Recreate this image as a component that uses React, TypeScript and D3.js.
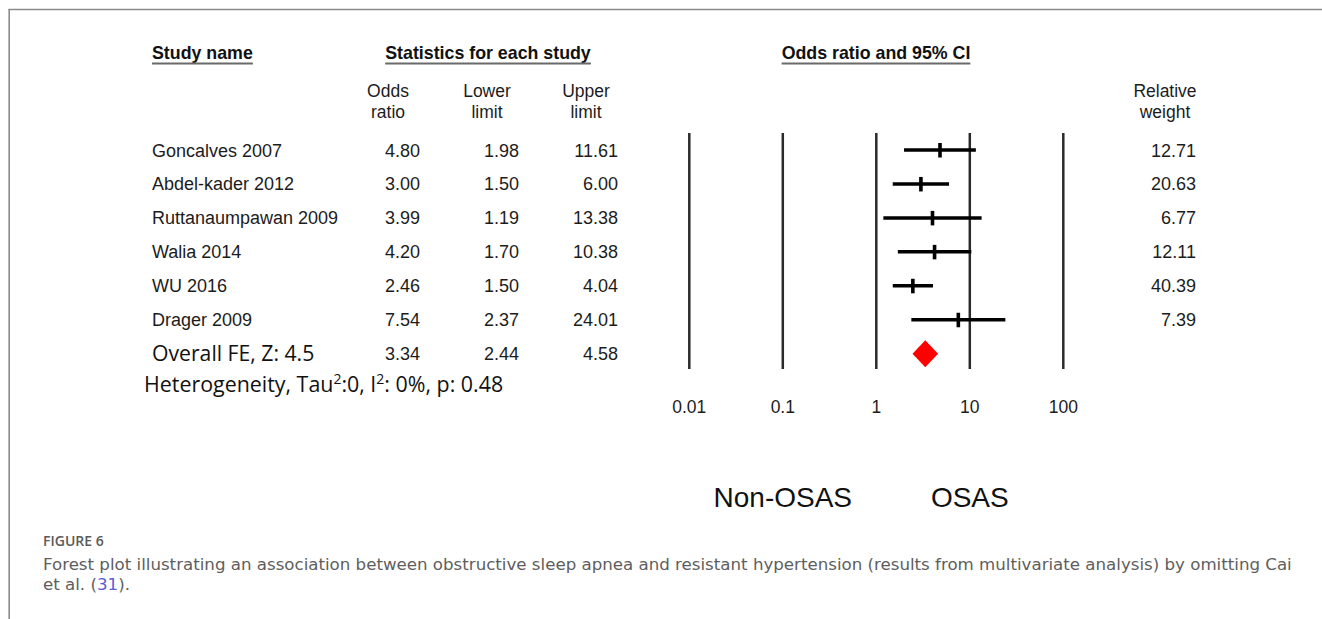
import React, { useEffect, useRef } from "react";
import * as d3 from "d3";

const studyNames = [
  "Goncalves 2007",
  "Abdel-kader 2012",
  "Ruttanaumpawan 2009",
  "Walia 2014",
  "WU 2016",
  "Drager 2009",
];
const oddsRatios = [4.8, 3.0, 3.99, 4.2, 2.46, 7.54];
const lowerLimits = [1.98, 1.5, 1.19, 1.7, 1.5, 2.37];
const upperLimits = [11.61, 6.0, 13.38, 10.38, 4.04, 24.01];
const relativeWeights = [12.71, 20.63, 6.77, 12.11, 40.39, 7.39];

const overallLabel = "Overall FE, Z: 4.5";
const overallOdds = 3.34;
const overallLower = 2.44;
const overallUpper = 4.58;

const axisTicks = [0.01, 0.1, 1, 10, 100];
const tickLabels = ["0.01", "0.1", "1", "10", "100"];

const W = 1322;
const H = 619;
const SANS = "'Liberation Sans', Arial, sans-serif";
const CAL = "'Open Sans', sans-serif";
const CAP = "'DejaVu Sans', sans-serif";

export default function App() {
  const ref = useRef<SVGSVGElement | null>(null);

  useEffect(() => {
    const svg = d3.select(ref.current);
    svg.selectAll("*").remove();

    const x = d3.scaleLog().domain([0.01, 100]).range([689.3, 1063.3]);
    const y = d3.scaleLinear().domain([0, 6]).range([150, 353.7]);
    const fmt = d3.format(".2f");
    const textColor = "#1c1c1c";

    // frame
    svg.append("line").attr("x1", 8.5).attr("x2", W).attr("y1", 9.5).attr("y2", 9.5)
      .attr("stroke", "#8a8a8a").attr("stroke-width", 1.6);
    svg.append("line").attr("x1", 9.2).attr("x2", 9.2).attr("y1", 9).attr("y2", H)
      .attr("stroke", "#8a8a8a").attr("stroke-width", 1.6);

    // headers with underline
    const headers = [
      { t: "Study name", x: 152, anchor: "start" },
      { t: "Statistics for each study", x: 488, anchor: "middle" },
      { t: "Odds ratio and 95% CI", x: 876, anchor: "middle" },
    ];
    headers.forEach((h) => {
      const node = svg.append("text")
        .attr("x", h.x).attr("y", 59)
        .attr("text-anchor", h.anchor)
        .attr("font-family", SANS).attr("font-weight", "bold")
        .attr("font-size", 17.8).attr("fill", "#111")
        .text(h.t);
      const bb = (node.node() as SVGTextElement).getBBox();
      svg.append("line")
        .attr("x1", bb.x).attr("x2", bb.x + bb.width)
        .attr("y1", 63.5).attr("y2", 63.5)
        .attr("stroke", "#6a6a6a").attr("stroke-width", 2.2);
    });

    // column sub-headers
    const sub = [
      { a: "Odds", b: "ratio", x: 388 },
      { a: "Lower", b: "limit", x: 487 },
      { a: "Upper", b: "limit", x: 586 },
      { a: "Relative", b: "weight", x: 1165 },
    ];
    sub.forEach((s) => {
      [s.a, s.b].forEach((t, k) => {
        svg.append("text")
          .attr("x", s.x).attr("y", 97 + k * 21)
          .attr("text-anchor", "middle")
          .attr("font-family", SANS).attr("font-size", 17.5)
          .attr("fill", textColor)
          .text(t);
      });
    });

    // vertical reference lines
    svg.selectAll("line.grid").data(axisTicks).enter().append("line")
      .attr("class", "grid")
      .attr("x1", (d) => x(d)).attr("x2", (d) => x(d))
      .attr("y1", 133).attr("y2", 369)
      .attr("stroke", "#2a2a2a").attr("stroke-width", 2.5);

    svg.selectAll("text.tick").data(axisTicks).enter().append("text")
      .attr("class", "tick")
      .attr("x", (d) => x(d)).attr("y", 413)
      .attr("text-anchor", "middle")
      .attr("font-family", SANS).attr("font-size", 17.5)
      .attr("fill", textColor)
      .text((d, i) => tickLabels[i]);

    // study rows
    studyNames.forEach((name, i) => {
      const yy = y(i);
      const base = yy + 6.5;
      svg.append("text").attr("x", 152).attr("y", base)
        .attr("font-family", SANS).attr("font-size", 18).attr("fill", textColor)
        .text(name);
      [
        { v: oddsRatios[i], x: 420 },
        { v: lowerLimits[i], x: 519 },
        { v: upperLimits[i], x: 618 },
        { v: relativeWeights[i], x: 1196 },
      ].forEach((c) => {
        svg.append("text").attr("x", c.x).attr("y", base)
          .attr("text-anchor", "end")
          .attr("font-family", SANS).attr("font-size", 18).attr("fill", textColor)
          .text(fmt(c.v));
      });
      // CI line
      svg.append("line")
        .attr("x1", x(lowerLimits[i])).attr("x2", x(upperLimits[i]))
        .attr("y1", yy).attr("y2", yy)
        .attr("stroke", "#000").attr("stroke-width", 3.5);
      // point marker
      svg.append("line")
        .attr("x1", x(oddsRatios[i])).attr("x2", x(oddsRatios[i]))
        .attr("y1", yy - 7).attr("y2", yy + 7.5)
        .attr("stroke", "#000").attr("stroke-width", 3.6);
    });

    // overall row
    const yo = y(6);
    svg.append("text").attr("x", 152).attr("y", yo + 7.5)
      .attr("font-family", CAL).attr("font-size", 21.2).attr("fill", "#111")
      .text(overallLabel);
    [
      { v: overallOdds, x: 420 },
      { v: overallLower, x: 519 },
      { v: overallUpper, x: 618 },
    ].forEach((c) => {
      svg.append("text").attr("x", c.x).attr("y", yo + 6.5)
        .attr("text-anchor", "end")
        .attr("font-family", SANS).attr("font-size", 18).attr("fill", textColor)
        .text(fmt(c.v));
    });
    const diamond = d3.line<[number, number]>()([
      [x(overallLower), yo],
      [x(overallOdds), yo - 13.5],
      [x(overallUpper), yo],
      [x(overallOdds), yo + 13.5],
    ]);
    svg.append("path").attr("d", diamond + "Z").attr("fill", "#ff0000");

    // heterogeneity
    const het = svg.append("text").attr("x", 144).attr("y", 392)
      .attr("font-family", CAL).attr("font-size", 21.4).attr("fill", "#111");
    het.append("tspan").text("Heterogeneity, Tau");
    het.append("tspan").attr("dy", -8.5).attr("font-size", 14).text("2");
    het.append("tspan").attr("dy", 8.5).text(":0, I");
    het.append("tspan").attr("dy", -8.5).attr("font-size", 14).text("2");
    het.append("tspan").attr("dy", 8.5).text(": 0%, p: 0.48");

    // direction labels
    svg.append("text").attr("x", x(0.1)).attr("y", 507)
      .attr("text-anchor", "middle").attr("font-family", SANS)
      .attr("font-size", 28).attr("fill", "#111").text("Non-OSAS");
    svg.append("text").attr("x", x(10)).attr("y", 507)
      .attr("text-anchor", "middle").attr("font-family", SANS)
      .attr("font-size", 28).attr("fill", "#111").text("OSAS");

    // caption
    svg.append("text").attr("x", 43).attr("y", 546)
      .attr("font-family", "'Open Sans', sans-serif").attr("font-size", 14).attr("font-weight", 600)
      .attr("fill", "#5a5a5a").text("FIGURE 6");
    svg.append("text").attr("x", 43).attr("y", 569.5)
      .attr("font-family", CAP).attr("font-size", 16.65).attr("fill", "#5e5e5e")
      .text("Forest plot illustrating an association between obstructive sleep apnea and resistant hypertension (results from multivariate analysis) by omitting Cai");
    const l2 = svg.append("text").attr("x", 43).attr("y", 590)
      .attr("font-family", CAP).attr("font-size", 16.65).attr("fill", "#5e5e5e");
    l2.append("tspan").text("et al. (");
    l2.append("tspan").attr("fill", "#5b5bd6").text("31");
    l2.append("tspan").text(").");
  }, []);

  return (
    <svg
      ref={ref}
      width={W}
      height={H}
      style={{ position: "absolute", left: 0, top: 0, background: "#fff" }}
    />
  );
}
